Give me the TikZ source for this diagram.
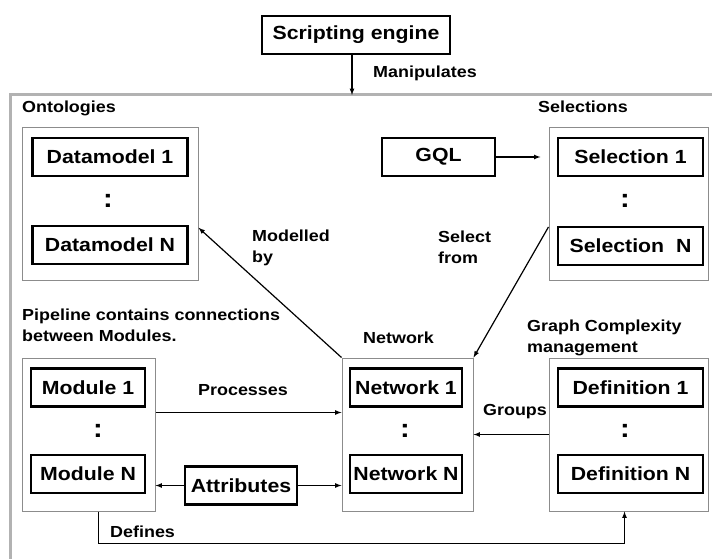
\documentclass[tikz,border=0pt]{standalone}
\usepackage{fontspec}
\setmainfont{Liberation Sans}[FakeStretch=1.12]
\begin{document}
\begin{tikzpicture}[x=1pt, y=-1pt,
  item/.style={draw, line width=2.8pt, minimum height=38pt, inner sep=0pt,
    font=\fontsize{19}{22}\selectfont\bfseries},
  group/.style={draw=black!45, line width=1pt, inner sep=0pt},
  lab/.style={inner sep=0pt, align=left, font=\fontsize{16}{21}\selectfont\bfseries},
  dots/.style={inner sep=0pt, font=\fontsize{26}{28}\selectfont\bfseries},
  link/.style={->, >=latex, line width=1.2pt}]
\useasboundingbox (0,0) rectangle (712,559);
\draw[black!30, line width=3pt] (712,95) -- (10,95) -- (10,559);
\node[item, minimum width=188pt] (script) at (356,35) {Scripting engine};
\coordinate (frametop) at (352,95);
\node[lab, anchor=west] (manip) at (373,73) {Manipulates};
% ontologies
\node[lab, anchor=west] (ontolab) at (22,108) {Ontologies};
\node[group, minimum width=176pt, minimum height=152pt] (onto) at (110,204) {};
\node[item, minimum width=155pt] (dm1) at (110,157) {Datamodel 1};
\node[dots] (dmdots) at (108,201) {:};
\node[item, minimum width=155pt] (dmN) at (110,245) {Datamodel N};
% selections
\node[lab, anchor=west] (sellab) at (538,107) {Selections};
\node[item, minimum width=113pt] (gql) at (438.5,157) {GQL};
\node[group, minimum width=159pt, minimum height=152pt] (sels) at (628.5,204) {};
\node[item, minimum width=145pt] (sel1) at (630.5,157) {Selection 1};
\node[dots] (seldots) at (625,201) {:};
\node[item, minimum width=145pt] (selN) at (630.5,246) {Selection\ \ N};
% labels
\node[lab, anchor=west] (modlab) at (252,247.5) {Modelled\\by};
\node[lab, anchor=west] (fromlab) at (438,247.5) {Select\\from};
\node[lab, anchor=west] (pipelab) at (22,325) {Pipeline contains connections\\between Modules.};
\node[lab, anchor=west] (netlab) at (363,338) {Network};
\node[lab, anchor=west] (gclab) at (527,338) {Graph Complexity\\management};
% modules
\node[group, minimum width=133pt, minimum height=153pt] (modg) at (88.5,434.5) {};
\node[item, minimum width=114pt] (mod1) at (88,387.5) {Module 1};
\node[dots] (moddots) at (98,431) {:};
\node[item, minimum width=114pt] (modN) at (88,474) {Module N};
% network
\node[group, minimum width=131pt, minimum height=153pt] (netg) at (407.5,434.5) {};
\node[item, minimum width=112pt] (net1) at (406,387.5) {Network 1};
\node[dots] (netdots) at (405,431) {:};
\node[item, minimum width=112pt] (netN) at (406,474) {Network N};
% definitions
\node[group, minimum width=159pt, minimum height=153pt] (defg) at (628.5,434.5) {};
\node[item, minimum width=145pt] (def1) at (630.5,387.5) {Definition 1};
\node[dots] (defdots) at (625,431) {:};
\node[item, minimum width=145pt] (defN) at (630.5,474) {Definition N};
\node[item, minimum width=112pt] (attr) at (241,485.5) {Attributes};
\node[lab] (proclab) at (243,390) {Processes};
\node[lab] (grplab) at (515,412) {Groups};
\node[lab, anchor=west] (deflab) at (110,532) {Defines};
% connectors
\draw[link] (frametop |- script.south) -- (frametop);
\draw[link] (gql.east) -- ++(44,0);
\draw[link] (netg.north west) -- (onto.-15);
\draw[link] (sels.196) -- (netg.north east);
\draw[link] ([yshift=22pt]modg.east) -- ([yshift=22pt]netg.west);
\draw[link] (attr.west) -- (attr.west -| modg.east);
\draw[link] (attr.east) -- (attr.east -| netg.west);
\draw[link] (defg.west) -- (netg.east);
\draw[link] ([xshift=10pt]modg.south) -- ++(0,32) -| ([xshift=-4pt]defg.south);
\end{tikzpicture}
\end{document}
